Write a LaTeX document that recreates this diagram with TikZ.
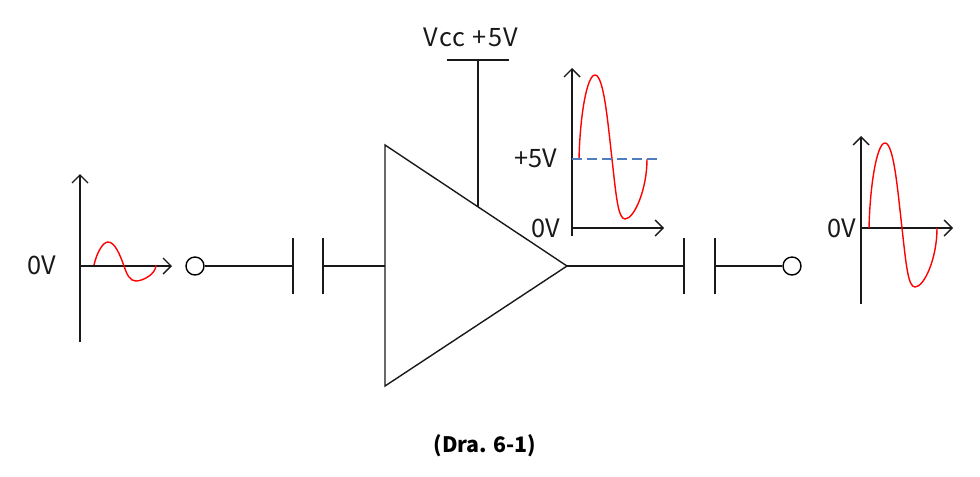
\documentclass[tikz,border=0pt]{standalone}
\usepackage{fontspec}
\setmainfont{Noto Sans CJK KR}
\usetikzlibrary{arrows.meta}
\definecolor{dashblue}{RGB}{80,125,190}
\tikzset{
 wire/.style={line width=1.05pt,black!90},
 axis/.style={line width=1.05pt,black!90,-{Straight Barb[length=6pt,width=12pt]}},
 sine/.style={line width=1.05pt,red},
 lab/.style={font=\fontsize{19}{22}\selectfont,black!90,inner sep=0pt},
 term/.style={circle,draw,line width=1.05pt,minimum size=13.5pt,inner sep=0pt}
}
\begin{document}
\begin{tikzpicture}[x=0.75pt,y=-0.75pt]
\useasboundingbox (0,0) rectangle (980,476);
% amp
\coordinate (A) at (385,145);
\coordinate (B) at (385,386);
\coordinate (C) at (567,266);
\draw[wire,line join=miter] (A) -- (C) -- (B) -- cycle;
% Vcc
\coordinate (Vl) at (447,60);
\coordinate (Vr) at (509,60);
\coordinate (Vm) at (478,60);
\coordinate (Vb) at (478,207);
\draw[wire] (Vl) -- (Vr);
\draw[wire] (Vm) -- (Vb);
\node[lab] (vcc) at (471,37) {\addfontfeature{LetterSpace=5}Vcc +5V};
% input
\node[term] (t1) at (195,266) {};
\coordinate (c1a) at (293,266);
\coordinate (c1b) at (323,266);
\coordinate (in) at (385,266);
\draw[wire] (t1) -- (c1a);
\draw[wire] (c1b) -- (in);
\draw[wire] (293,238) -- (293,294);
\draw[wire] (323,238) -- (323,294);
% output
\node[term] (t2) at (792,266) {};
\coordinate (c2a) at (684,266);
\coordinate (c2b) at (715,266);
\draw[wire] (C) -- (c2a);
\draw[wire] (c2b) -- (t2);
\draw[wire] (684,238) -- (684,294);
\draw[wire] (715,238) -- (715,294);
% input graph
\draw[axis] (80,342) -- (80,174);
\draw[axis] (80,266) -- (172,266);
\node[lab] (z1) at (42,265) {0V};
\draw[sine] (94,265) .. controls (97,252) and (103,242) .. (108,242) .. controls (115,242) and (120,255) .. (124,266) .. controls (127,275) and (130,281) .. (136,281) .. controls (143,281) and (156,274) .. (156,265);
% mid graph
\draw[axis] (572,236) -- (572,68);
\draw[axis] (572,228) -- (664,228);
\node[lab] (p5) at (536,158) {+5V};
\node[lab] (z2) at (546,228) {0V};
\draw[sine] (579,159) .. controls (580,115) and (587,75) .. (595,75) .. controls (604,75) and (608,125) .. (612,159) .. controls (616,195) and (618,219) .. (625,219) .. controls (634,219) and (647,190) .. (647,159);
\draw[dashblue,line width=1.5pt,dash pattern=on 7.5pt off 3.75pt] (572,159) -- (657,159);
% out graph
\draw[axis] (861,304) -- (861,136);
\draw[axis] (861,228) -- (953,228);
\node[lab] (z3) at (842,228) {0V};
\draw[sine] (869,228) .. controls (870,184) and (877,143) .. (885,143) .. controls (894,143) and (898,194) .. (902,228) .. controls (906,264) and (908,287) .. (915,287) .. controls (924,287) and (937,259) .. (937,228);
\node[font=\fontsize{16}{20}\selectfont,inner sep=0pt] (cap) at (485,446) {\textbf{(Dra. 6-1)}};
\end{tikzpicture}
\end{document}
